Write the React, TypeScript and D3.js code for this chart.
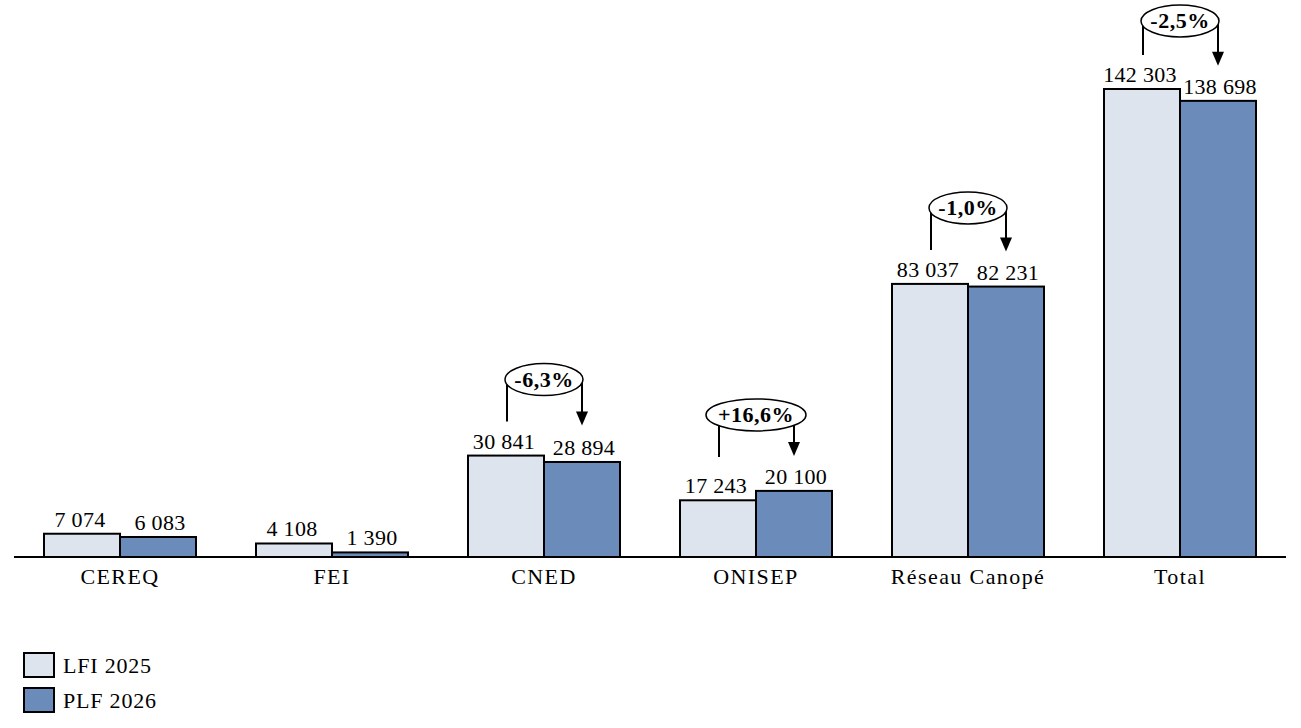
import React from "react";
import * as d3 from "d3";

const categories = ["CEREQ", "FEI", "CNED", "ONISEP", "Réseau Canopé", "Total"];
const lfi2025 = [7074, 4108, 30841, 17243, 83037, 142303];
const plf2026 = [6083, 1390, 28894, 20100, 82231, 138698];
const changes = [null, null, "-6,3%", "+16,6%", "-1,0%", "-2,5%"];
const seriesNames = ["LFI 2025", "PLF 2026"];
const colors = ["#dee4ee", "#6b8cba"];

const W = 1301;
const H = 728;
const FONT = "'Liberation Serif', 'Times New Roman', serif";

const fmt = (v: number) => d3.format(",")(v).replace(/,/g, " ");

export default function App() {
  const x = d3.scaleBand<string>().domain(categories).range([14, 1286]).paddingInner(0.283).paddingOuter(0.1415);
  const xs = d3.scaleBand<string>().domain(["0", "1"]).range([0, x.bandwidth()]);
  const y = d3.scaleLinear().domain([0, 160000]).range([557, 30.8]);
  const series = [lfi2025, plf2026];

  return (
    <svg width={W} height={H} style={{ position: "absolute", left: 0, top: 0, fontFamily: FONT }}>
      {categories.map((c, i) => (
        <g key={c}>
          {series.map((s, j) => {
            const bx = (x(c) as number) + (xs(String(j)) as number);
            return (
              <g key={j}>
                <rect x={bx} y={y(s[i])} width={xs.bandwidth()} height={y(0) - y(s[i])} fill={colors[j]} stroke="#000" strokeWidth={2} />
                <text x={bx + xs.bandwidth() / 2 + (j === 0 ? -2 : 2)} y={y(s[i]) - 7} textAnchor="middle" fontSize={22} letterSpacing={0.3} fill="#000">
                  {fmt(s[i])}
                </text>
              </g>
            );
          })}
          <text x={(x(c) as number) + x.bandwidth() / 2} y={584} textAnchor="middle" fontSize={22} letterSpacing={1.4} fill="#000">{c}</text>
        </g>
      ))}
      <line x1={14} x2={1286} y1={y(0)} y2={y(0)} stroke="#000" strokeWidth={2} />
      {categories.map((c, i) => {
        const lab = changes[i];
        if (!lab) return null;
        const cx = (x(c) as number) + x.bandwidth() / 2;
        const top = Math.min(y(lfi2025[i]), y(plf2026[i]));
        const ey = Math.max(21, top - 76);
        const rx = lab.length > 5 ? 50 : 39;
        const lx = cx - 37;
        const ax = cx + 38;
        const leftBottom = y(lfi2025[i]) - 34;
        const tip = Math.min(y(plf2026[i]) - 35, ey + 46);
        return (
          <g key={"a" + c}>
            <line x1={lx} x2={lx} y1={ey} y2={Math.min(leftBottom, ey + 42)} stroke="#000" strokeWidth={2} />
            <line x1={ax} x2={ax} y1={ey} y2={tip - 13} stroke="#000" strokeWidth={2} />
            <path d={`M${ax - 6},${tip - 14} L${ax + 6},${tip - 14} L${ax},${tip} Z`} fill="#000" />
            <ellipse cx={cx} cy={ey} rx={rx} ry={16} fill="#fff" stroke="#000" strokeWidth={1.5} />
            <text x={cx} y={ey + 7} textAnchor="middle" fontSize={22} fontWeight="bold" letterSpacing={0.5} fill="#000">{lab}</text>
          </g>
        );
      })}
      {seriesNames.map((n, j) => (
        <g key={n}>
          <rect x={24} y={653 + j * 35} width={30} height={24} fill={colors[j]} stroke="#000" strokeWidth={2} />
          <text x={63} y={673 + j * 35} fontSize={22} letterSpacing={0.8} fill="#000">{n}</text>
        </g>
      ))}
    </svg>
  );
}
